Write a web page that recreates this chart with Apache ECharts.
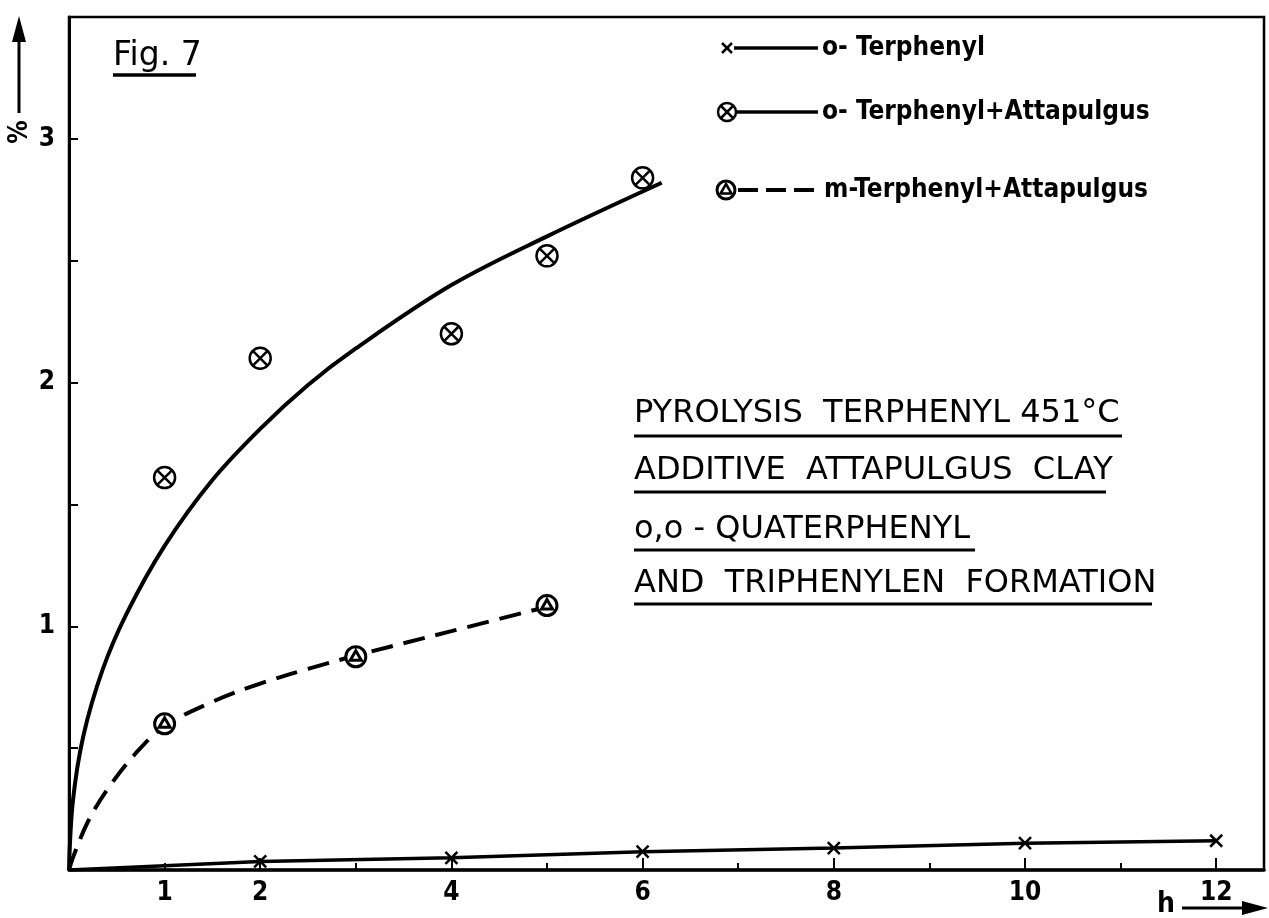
<!DOCTYPE html>
<html>
<head>
<meta charset="utf-8">
<script src="https://cdn.jsdelivr.net/npm/echarts@6/dist/echarts.min.js"></script>
<style>html,body{margin:0;padding:0;background:#fff}#c{width:1269px;height:918px}</style>
</head>
<body>
<div id="c"></div>
<script>
// ---- data ----
const xTickLabels = [1, 2, 4, 6, 8, 10, 12];
const yTickLabels = [1, 2, 3];

const oTerphX = [0, 2, 4, 6, 8, 10, 12];
const oTerphY = [0, 0.035, 0.05, 0.075, 0.09, 0.11, 0.12];

const oAttPointX = [1, 2, 4, 5, 6];
const oAttPointY = [1.61, 2.10, 2.20, 2.52, 2.84];
const oAttCurveX = [0, 0.04, 0.15, 0.35, 0.6, 1, 1.5, 2, 2.5, 3, 4, 5, 6.2];
const oAttCurveY = [0, 0.28, 0.55, 0.82, 1.05, 1.33, 1.6, 1.81, 1.99, 2.14, 2.4, 2.6, 2.82];

const mAttPointX = [1, 3, 5];
const mAttPointY = [0.60, 0.875, 1.085];
const mAttCurveX = [0, 0.05, 0.2, 0.4, 0.7, 1, 1.5, 2, 2.5, 3, 4, 5];
const mAttCurveY = [0, 0.06, 0.2, 0.33, 0.48, 0.59, 0.69, 0.765, 0.825, 0.88, 0.98, 1.08];

const legendNames = ['o- Terphenyl', 'o- Terphenyl+Attapulgus', 'm-Terphenyl+Attapulgus'];
const noteLines = ['PYROLYSIS  TERPHENYL 451°C', 'ADDITIVE  ATTAPULGUS  CLAY', 'o,o - QUATERPHENYL', 'AND  TRIPHENYLEN  FORMATION'];

// ---- helpers ----
const zip = (xs, ys) => xs.map((x, i) => [x, ys[i]]);
const FONT = '"DejaVu Sans Condensed", "Liberation Sans Narrow", sans-serif';
const FONT_W = '"DejaVu Sans", sans-serif';
const SYM_CROSS = 'path://M0,0 L10,10 M10,0 L0,10';
const SYM_OX = 'path://M0,10 A10,10 0 1,1 20,10 A10,10 0 1,1 0,10 Z M3.5,3.5 L16.5,16.5 M16.5,3.5 L3.5,16.5';
const SYM_OTRI = 'path://M0,10 A10,10 0 1,1 20,10 A10,10 0 1,1 0,10 Z M10,4 L15.5,13.5 L4.5,13.5 Z';

const chart = echarts.init(document.getElementById('c'), null, {renderer: 'canvas'});

const gridL = 69, gridT = 17, gridW = 1195, gridH = 853;

const oTerphData = zip(oTerphX, oTerphY).map((p, i) => i === 0 ? {value: p, symbol: 'none'} : p);

const option = {
  backgroundColor: '#fff',
  animation: false,
  grid: {left: gridL, top: gridT, width: gridW, height: gridH, show: true, borderColor: '#000', borderWidth: 2.5, backgroundColor: 'transparent'},
  xAxis: [{
    type: 'value', min: 0, max: 12.5, interval: 1, position: 'bottom',
    axisLine: {show: true, onZero: false, lineStyle: {color: '#000', width: 3.5}},
    axisTick: {show: true, inside: true, length: 7, lineStyle: {color: '#000', width: 2}},
    axisLabel: {
      show: true, color: '#000', fontSize: 26, fontFamily: FONT, fontWeight: 'bold', margin: 10,
      formatter: v => xTickLabels.indexOf(v) >= 0 ? String(v) : ''
    },
    splitLine: {show: false}
  }, {
    type: 'value', min: 0, max: 12.5, interval: 2, position: 'bottom',
    axisLine: {show: false},
    axisTick: {show: true, inside: true, length: 12, lineStyle: {color: '#000', width: 2}},
    axisLabel: {show: false},
    splitLine: {show: false}
  }],
  yAxis: {
    type: 'value', min: 0, max: 3.5, interval: 0.5,
    axisLine: {show: true, onZero: false, lineStyle: {color: '#000', width: 3}},
    axisTick: {show: true, inside: true, length: 9, lineStyle: {color: '#000', width: 2}},
    axisLabel: {
      show: true, color: '#000', fontSize: 26, fontFamily: FONT, fontWeight: 'bold', margin: 14,
      formatter: v => yTickLabels.indexOf(v) >= 0 ? String(v) : ''
    },
    splitLine: {show: false}
  },
  series: [
    {
      name: legendNames[0], type: 'line', xAxisIndex: 0, data: oTerphData,
      symbol: SYM_CROSS, symbolSize: 12, showSymbol: true,
      itemStyle: {color: '#000', borderColor: '#000', borderWidth: 2.5},
      lineStyle: {color: '#000', width: 3.5}, z: 3
    },
    {
      name: legendNames[1] + ' curve', type: 'line', xAxisIndex: 0, data: zip(oAttCurveX, oAttCurveY),
      smooth: 0.35, showSymbol: false, symbol: 'none',
      lineStyle: {color: '#000', width: 4}, z: 2
    },
    {
      name: legendNames[1], type: 'scatter', xAxisIndex: 0, data: zip(oAttPointX, oAttPointY),
      symbol: SYM_OX, symbolSize: 21,
      itemStyle: {color: '#fff', borderColor: '#000', borderWidth: 2.5, opacity: 1}, z: 4
    },
    {
      name: legendNames[2] + ' curve', type: 'line', xAxisIndex: 0, data: zip(mAttCurveX, mAttCurveY),
      smooth: 0.35, showSymbol: false, symbol: 'none',
      lineStyle: {color: '#000', width: 4, type: [22, 11]}, z: 2
    },
    {
      name: legendNames[2], type: 'scatter', xAxisIndex: 0, data: zip(mAttPointX, mAttPointY),
      symbol: SYM_OTRI, symbolSize: 20,
      itemStyle: {color: '#fff', borderColor: '#000', borderWidth: 3, opacity: 1}, z: 4
    }
  ],
  graphic: []
};

const g = [];
const txt = (x, y, s, size, extra) => g.push(Object.assign({
  type: 'text', x: x, y: y, z: 10,
  style: Object.assign({text: s, fill: '#000', font: 'bold ' + size + 'px ' + FONT, textVerticalAlign: 'middle'}, extra || {})
}));
const ln = (x1, y1, x2, y2, w, dash) => g.push({
  type: 'line', z: 10, shape: {x1: x1, y1: y1, x2: x2, y2: y2},
  style: {stroke: '#000', lineWidth: w, lineDash: dash || null}
});

// Fig. 7
txt(113, 56, 'Fig. 7', 33, {font: '33px ' + FONT_W});
ln(113, 75, 196, 75, 3.5);

// y axis arrow and unit
ln(19, 40, 19, 113, 3);
g.push({type: 'polygon', z: 10, shape: {points: [[19, 16], [12, 42], [26, 42]]}, style: {fill: '#000'}});
g.push({type: 'text', x: 20, y: 132, rotation: Math.PI / 2, z: 10,
  style: {text: '%', fill: '#000', font: 'bold 26px ' + FONT, textAlign: 'center', textVerticalAlign: 'middle'}});

// x axis arrow and unit
txt(1166, 905, 'h', 28, {textAlign: 'center'});
ln(1182, 908, 1244, 908, 3);
g.push({type: 'polygon', z: 10, shape: {points: [[1268, 908], [1242, 901], [1242, 915]]}, style: {fill: '#000'}});

// legend
const legY = [48, 112, 190];
// item 1: cross
ln(722, legY[0] - 5, 732, legY[0] + 5, 2.5); ln(732, legY[0] - 5, 722, legY[0] + 5, 2.5);
ln(734, legY[0], 818, legY[0], 3.5);
txt(822, legY[0], legendNames[0], 26);
// item 2: circled x
g.push({type: 'circle', z: 10, shape: {cx: 727, cy: legY[1], r: 9}, style: {fill: '#fff', stroke: '#000', lineWidth: 2.5}});
ln(721, legY[1] - 6, 733, legY[1] + 6, 2.5); ln(733, legY[1] - 6, 721, legY[1] + 6, 2.5);
ln(737, legY[1], 818, legY[1], 3.5);
txt(822, legY[1], legendNames[1], 26);
// item 3: circled triangle, dashed
g.push({type: 'circle', z: 10, shape: {cx: 726, cy: legY[2], r: 9}, style: {fill: '#fff', stroke: '#000', lineWidth: 3}});
g.push({type: 'polygon', z: 10, shape: {points: [[726, legY[2] - 6], [731.5, legY[2] + 3.5], [720.5, legY[2] + 3.5]]}, style: {fill: '#fff', stroke: '#000', lineWidth: 2.5}});
ln(738, legY[2], 822, legY[2], 4, [20, 8]);
txt(824, legY[2], legendNames[2], 26);

// annotation block
const noteY = [414, 471, 530, 584];
const noteUL = [[634, 1122, 436], [634, 1106, 492], [634, 975, 550], [634, 1152, 604]];
noteLines.forEach((s, i) => {
  txt(634, noteY[i], s, 32, {font: '32px ' + FONT_W});
  ln(noteUL[i][0], noteUL[i][2], noteUL[i][1], noteUL[i][2], 3);
});

option.graphic = g;
chart.setOption(option);
</script>
</body>
</html>
